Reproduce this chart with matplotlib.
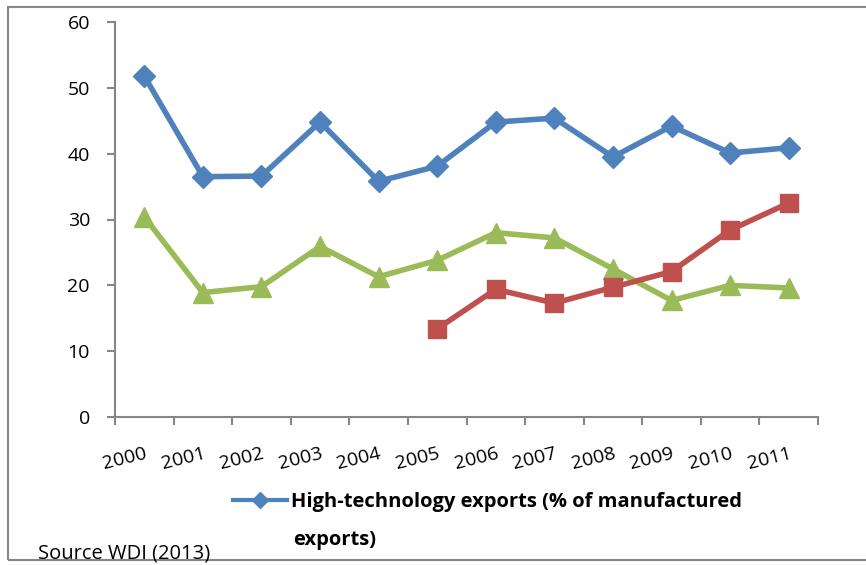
import numpy as np
import matplotlib
matplotlib.use("Agg")
import matplotlib.pyplot as plt
from matplotlib.lines import Line2D
from matplotlib.patches import Rectangle

plt.rcParams['font.family'] = ['Open Sans', 'DejaVu Sans']

years = ['2000', '2001', '2002', '2003', '2004', '2005',
         '2006', '2007', '2008', '2009', '2010', '2011']
high_tech = [51.8, 36.5, 36.6, 44.8, 35.8, 38.1, 44.8, 45.4, 39.5, 44.2, 40.1, 40.9]
green_series = [30.4, 18.9, 19.8, 25.9, 21.3, 23.8, 28.0, 27.2, 22.5, 17.7, 20.0, 19.6]
red_years = ['2005', '2006', '2007', '2008', '2009', '2010', '2011']
red_series = [13.4, 19.4, 17.3, 19.7, 22.1, 28.4, 32.5]

blue = '#4F81BD'
red = '#C0504D'
green = '#9BBB59'
axis_grey = '#868686'

x = np.arange(len(years))
x_red = np.array([years.index(y) for y in red_years])

fig = plt.figure(figsize=(8.66, 5.65), dpi=100)
ax = fig.add_axes([115 / 866, 1 - 417 / 565, 703 / 866, 395 / 565])

ax.plot(x, high_tech, color=blue, lw=4, marker='D', ms=11,
        solid_joinstyle='round')
ax.plot(x, green_series, color=green, lw=4, marker='^', ms=14,
        solid_joinstyle='round')
ax.plot(x_red, red_series, color=red, lw=4, marker='s', ms=13,
        solid_joinstyle='round')

ax.set_xlim(-0.5, len(years) - 0.5)
ax.set_ylim(0, 60)
ax.set_yticks(np.arange(0, 61, 10))

# tick marks sit between categories, labels sit under each category
ax.set_xticks(np.arange(-0.5, len(years), 1.0))
ax.set_xticklabels([])
ax.set_xticks(x, minor=True)
ax.set_xticklabels(years, minor=True, rotation=14, ha='right',
                   rotation_mode='anchor', fontsize=14)
ax.tick_params(axis='x', which='minor', length=0, pad=20)
ax.tick_params(axis='x', which='major', length=6, width=1.5, color=axis_grey)
ax.tick_params(axis='y', length=6, width=1.5, color=axis_grey, pad=12,
               labelsize=14)

for side in ['top', 'right']:
    ax.spines[side].set_visible(False)
for side in ['left', 'bottom']:
    ax.spines[side].set_color(axis_grey)
    ax.spines[side].set_linewidth(1.5)

# legend shows only the first series, its label wraps onto a second line
key = Line2D([], [], color=blue, lw=3, marker='D', ms=8)
ax.legend([key], ['High-technology exports (% of manufactured'],
          loc='upper left', bbox_to_anchor=(233 / 866, 1 - 492 / 565),
          bbox_transform=fig.transFigure, frameon=False,
          handlelength=2.7, handletextpad=0.2, borderpad=0, borderaxespad=0,
          prop={'weight': 'bold', 'size': 14.5})
fig.text(293 / 866, 1 - 545 / 565, 'exports)', fontsize=14.5,
         fontweight='bold', va='baseline', ha='left')

fig.text(38 / 866, 1 - 543 / 565, 'Source WDI (2013)', fontsize=14.5,
         va='top', ha='left')

fig.patches.append(Rectangle((8 / 866, 5 / 565), 1.0, 553 / 565,
                             transform=fig.transFigure, fill=False,
                             edgecolor=axis_grey, lw=1.5))

fig.savefig('out.png', dpi=100)
